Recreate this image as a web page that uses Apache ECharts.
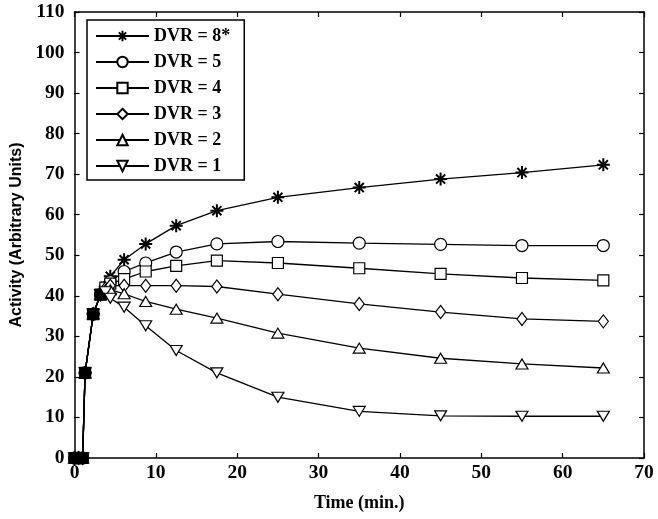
<!DOCTYPE html>
<html>
<head>
<meta charset="utf-8">
<script src="https://cdn.jsdelivr.net/npm/echarts@6/dist/echarts.min.js"></script>
<style>
  html, body { margin: 0; padding: 0; background: #fff; }
  #chart { width: 658px; height: 519px; }
</style>
</head>
<body>
<div id="chart"></div>
<script>
var myChart = echarts.init(document.getElementById('chart'));

var times = [0, 0.5, 1, 1.3, 2.3, 3.2, 3.8, 4.4, 6.1, 8.75, 12.5, 17.5, 25, 35, 45, 55, 65];
var seriesNames = ['DVR = 8*', 'DVR = 5', 'DVR = 4', 'DVR = 3', 'DVR = 2', 'DVR = 1'];
var dvr8 = [0, 0, 0, 21, 35.5, 40.3, 42.3, 44.8, 48.9, 52.8, 57.3, 61.0, 64.3, 66.7, 68.8, 70.4, 72.3];
var dvr5 = [0, 0, 0, 21, 35.5, 40.3, 42.0, 43.5, 46.0, 48.1, 50.8, 52.8, 53.4, 53.0, 52.7, 52.4, 52.4];
var dvr4 = [0, 0, 0, 21, 35.5, 40.3, 42.0, 43.0, 44.1, 46.0, 47.4, 48.7, 48.1, 46.8, 45.4, 44.4, 43.8];
var dvr3 = [0, 0, 0, 21, 35.5, 40.3, 41.8, 42.5, 42.5, 42.5, 42.5, 42.3, 40.4, 38.0, 36.0, 34.3, 33.7];
var dvr2 = [0, 0, 0, 21, 35.5, 40.3, 41.5, 41.5, 40.5, 38.6, 36.7, 34.5, 30.8, 27.1, 24.6, 23.2, 22.2];
var dvr1 = [0, 0, 0, 21, 35.5, 40.3, 41.0, 39.4, 37.2, 32.6, 26.5, 21.0, 15.0, 11.5, 10.4, 10.3, 10.3];
var allValues = [dvr8, dvr5, dvr4, dvr3, dvr2, dvr1];

var symbols = [
    'path://M5,0L5,10M0,5L10,5M1.5,1.5L8.5,8.5M1.5,8.5L8.5,1.5',
    'circle',
    'rect',
    'diamond',
    'triangle',
    'path://M0,0L12,0L6,10Z'
];
var sizes = [13, 12, 11, [10, 13], [12, 10], [12, 10]];

var serifBold = {
    fontFamily: 'Liberation Serif, Times New Roman, serif',
    fontWeight: 'bold',
    fontSize: 18,
    color: '#000'
};
var tickFont = Object.assign({}, serifBold, { fontSize: 19.5 });

// points where every curve has the same value overlap into a solid dark blob
function shared(i) {
    for (var s = 1; s < allValues.length; s++) {
        if (allValues[s][i] !== allValues[0][i]) return false;
    }
    return true;
}

function pairs(vals) {
    var out = [];
    for (var i = 0; i < times.length; i++) {
        var item = { value: [times[i], vals[i]] };
        if (shared(i)) item.itemStyle = { color: '#000' };
        out.push(item);
    }
    return out;
}

var series = [];
for (var n = 0; n < seriesNames.length; n++) {
    series.push({
        name: seriesNames[n],
        type: 'line',
        data: pairs(allValues[n]),
        symbol: symbols[n],
        symbolSize: sizes[n],
        showAllSymbol: true,
        clip: false,
        lineStyle: { color: '#000', width: 1.3 },
        itemStyle: {
            color: n === 0 ? '#000' : '#fff',
            borderColor: '#000',
            borderWidth: n === 0 ? 2 : 1.2
        },
        emphasis: { disabled: true },
        animation: false
    });
}

var axisLine = { show: true, onZero: false, lineStyle: { color: '#000', width: 1.5 } };
var axisTick = { show: true, inside: true, length: 5, lineStyle: { color: '#000', width: 1.2 } };

option = {
    animation: false,
    grid: { left: 74.5, right: 14, top: 12, bottom: 61 },
    legend: {
        data: seriesNames,
        orient: 'vertical',
        left: 87,
        top: 20,
        backgroundColor: '#fff',
        borderColor: '#000',
        borderWidth: 1.5,
        borderRadius: 0,
        padding: [7, 14, 5, 8],
        itemWidth: 53,
        itemHeight: 13,
        itemGap: 8,
        textStyle: serifBold
    },
    xAxis: [{
        type: 'value',
        min: 0,
        max: 70,
        interval: 10,
        position: 'bottom',
        name: 'Time (min.)',
        nameLocation: 'middle',
        nameGap: 36,
        nameTextStyle: serifBold,
        axisLine: axisLine,
        axisTick: axisTick,
        axisLabel: Object.assign({ margin: 5 }, tickFont),
        splitLine: { show: false }
    }, {
        type: 'value',
        min: 0,
        max: 70,
        interval: 10,
        position: 'top',
        axisLine: axisLine,
        axisTick: axisTick,
        axisLabel: { show: false },
        splitLine: { show: false }
    }],
    yAxis: [{
        type: 'value',
        min: 0,
        max: 110,
        interval: 10,
        position: 'left',
        name: 'Activity (Arbitrary Units)',
        nameLocation: 'middle',
        nameGap: 44,
        nameTextStyle: {
            fontFamily: 'Liberation Sans, Arial, sans-serif',
            fontWeight: 'bold',
            fontSize: 16,
            color: '#000'
        },
        axisLine: axisLine,
        axisTick: axisTick,
        axisLabel: Object.assign({ margin: 10 }, tickFont),
        splitLine: { show: false }
    }, {
        type: 'value',
        min: 0,
        max: 110,
        interval: 10,
        position: 'right',
        axisLine: axisLine,
        axisTick: axisTick,
        axisLabel: { show: false },
        splitLine: { show: false }
    }],
    series: series
};

myChart.setOption(option);
</script>
</body>
</html>
